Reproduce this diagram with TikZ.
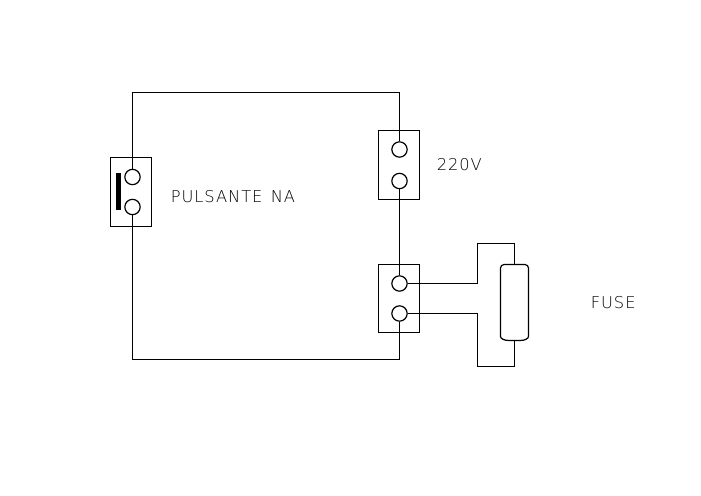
\documentclass[tikz,border=0pt]{standalone}
\usepackage{fontspec}
\setmainfont{Liberation Sans}
\newfontfamily\cadfont[LetterSpace=6]{DejaVu Sans ExtraLight}
\tikzset{
    wire/.style={line width=0.9pt},
    block/.style={draw,line width=0.9pt,minimum width=30.75pt,inner sep=0pt,outer sep=0pt},
    pin/.style={circle,draw,line width=0.9pt,minimum size=11.5pt,inner sep=0pt},
    lbl/.style={anchor=west,inner sep=0pt,font=\fontsize{12.2pt}{14pt}\cadfont}
}
\begin{document}
\begin{tikzpicture}[x=0.75pt,y=-0.75pt]
    \useasboundingbox (0,0) rectangle (701,496);
    %% blocks
    \node[block,minimum height=51.75pt] (swbox) at (131,192) {};
    \node[block,minimum height=51.75pt] (vbox) at (399,165) {};
    \node[block,minimum height=51pt] (fbox) at (399,298.5) {};
    %% pins
    \node[pin] (swa) at (132.5,177) {};
    \node[pin] (swb) at (132.5,207) {};
    \node[pin] (va) at (399.5,149.5) {};
    \node[pin] (vb) at (399.5,181) {};
    \node[pin] (fa) at (399.5,283.5) {};
    \node[pin] (fb) at (399.5,313.5) {};
    %% push button bar
    \fill (116,173) rectangle (121,210);
    %% fuse
    \coordinate (fusetop) at (514.5,264.5);
    \coordinate (fusebot) at (514.5,340.5);
    \draw[wire] (fusetop) -- (504,264.5) .. controls (502,264.8) and (500.5,266) .. (500.5,268)
        -- (500.5,336.5) .. controls (500.5,338.5) and (504,340.5) .. (509,340.5) -- (fusebot)
        -- (520,340.5) .. controls (525,340.5) and (528.5,338.5) .. (528.5,336.5)
        -- (528.5,268) .. controls (528.5,266) and (527,264.8) .. (525,264.5) -- cycle;
    %% wires
    \coordinate (tl) at (132.5,92.5);
    \coordinate (tr) at (399.5,92.5);
    \coordinate (bl) at (132.5,359.5);
    \coordinate (br) at (399.5,359.5);
    \coordinate (ua) at (477.5,283.5);
    \coordinate (ub) at (477.5,243.5);
    \coordinate (uc) at (514.5,243.5);
    \coordinate (da) at (477.5,313.5);
    \coordinate (db) at (477.5,366.5);
    \coordinate (dc) at (514.5,366.5);
    \draw[wire] (swa.north) -- (tl) -- (tr) -- (va.north);
    \draw[wire] (swb.south) -- (bl) -- (br) -- (fb.south);
    \draw[wire] (vb.south) -- (fa.north);
    \draw[wire] (fa.east) -- (ua) -- (ub) -- (uc) -- (fusetop);
    \draw[wire] (fb.east) -- (da) -- (db) -- (dc) -- (fusebot);
    %% labels
    \node[lbl] (pulsante) at (170.5,196.5) {PULSANTE\hspace{6.2pt}NA};
    \node[lbl] (volt) at (436.5,164.5) {220V};
    \node[lbl] (fusetxt) at (590.5,302.5) {FUSE};
\end{tikzpicture}
\end{document}
